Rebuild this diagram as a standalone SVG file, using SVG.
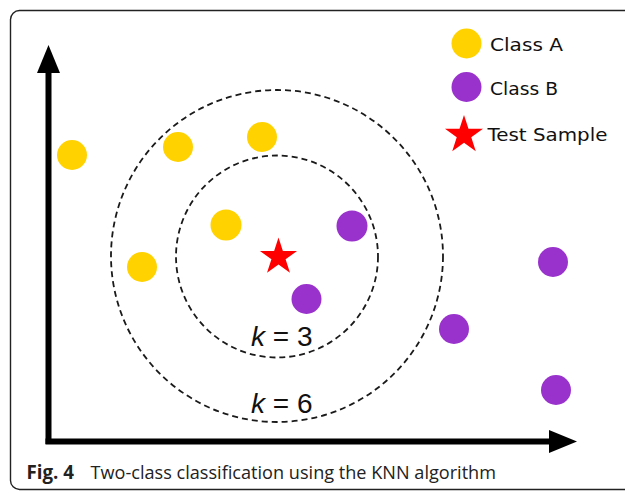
<svg xmlns="http://www.w3.org/2000/svg" width="625" height="492" viewBox="0 0 625 492">
<style>
.a{fill:#FFD200}
.b{fill:#9932CC}
.star{fill:#FF0000}
.ring{fill:none;stroke:#1a1a1a;stroke-width:1.8;stroke-dasharray:6 4}
.leg{font-family:"DejaVu Sans",sans-serif;font-size:18.5px;fill:#111}
.k{font-family:"Liberation Sans",Arial,sans-serif;font-size:28px;fill:#111}
.cap{font-family:"Open Sans","Noto Sans",sans-serif;font-size:19px;fill:#222}
.axis{stroke:#000;stroke-width:6;fill:none}
</style>
<defs>
<polygon id="starShape" points="0,-1 0.2245,-0.309 0.9511,-0.309 0.3633,0.118 0.5878,0.809 0,0.382 -0.5878,0.809 -0.3633,0.118 -0.9511,-0.309 -0.2245,-0.309"/>
</defs>
<rect width="625" height="492" fill="#fff"/>
<rect id="frame" x="10.5" y="10.5" width="640" height="479" rx="9" fill="none" stroke="#222" stroke-width="1.4"/>
<g id="connectors">
<path class="axis" d="M48.5,444 V70"/>
<polygon points="48.5,45 37,73 60,73" fill="#000"/>
<path class="axis" d="M45.5,441.5 H552"/>
<polygon points="577,441.5 549,430 549,453" fill="#000"/>
</g>
<g id="ring-k6"><circle class="ring" cx="277" cy="256" r="166"/></g>
<g id="ring-k3"><circle class="ring" cx="277" cy="256.5" r="101"/></g>
<g id="label-k3"><text class="k" x="251" y="345.5"><tspan font-style="italic">k</tspan> = 3</text></g>
<g id="label-k6"><text class="k" x="251" y="412.5"><tspan font-style="italic">k</tspan> = 6</text></g>
<g id="a1"><circle class="a" cx="72" cy="155" r="15"/></g>
<g id="a2"><circle class="a" cx="178" cy="147" r="15"/></g>
<g id="a3"><circle class="a" cx="262" cy="137" r="15"/></g>
<g id="a4"><circle class="a" cx="226" cy="225" r="15.5"/></g>
<g id="a5"><circle class="a" cx="142" cy="267" r="15"/></g>
<g id="b1"><circle class="b" cx="352" cy="226" r="15.5"/></g>
<g id="b2"><circle class="b" cx="306.5" cy="299" r="15"/></g>
<g id="b3"><circle class="b" cx="553" cy="262" r="15"/></g>
<g id="b4"><circle class="b" cx="454" cy="329" r="15"/></g>
<g id="b5"><circle class="b" cx="556" cy="390" r="15"/></g>
<g id="test"><use href="#starShape" class="star" transform="translate(278.5,257) scale(19.5)"/></g>
<g id="legend-a"><circle class="a" cx="466.5" cy="43.5" r="15"/><text class="leg" x="490" y="50.5" textLength="73" lengthAdjust="spacingAndGlyphs">Class A</text></g>
<g id="legend-b"><circle class="b" cx="466.5" cy="87" r="15"/><text class="leg" x="490" y="94.5" textLength="68" lengthAdjust="spacingAndGlyphs">Class B</text></g>
<g id="legend-test"><use href="#starShape" class="star" transform="translate(464,135) scale(20)"/><text class="leg" x="487.5" y="140.5" textLength="120" lengthAdjust="spacingAndGlyphs">Test Sample</text></g>
<g id="caption">
<text class="cap" x="26.5" y="479" font-weight="bold" fill="#111" textLength="47.5" lengthAdjust="spacingAndGlyphs">Fig. 4</text>
<text class="cap" x="90.5" y="479" textLength="405.5" lengthAdjust="spacingAndGlyphs">Two-class classification using the KNN algorithm</text>
</g>
</svg>
